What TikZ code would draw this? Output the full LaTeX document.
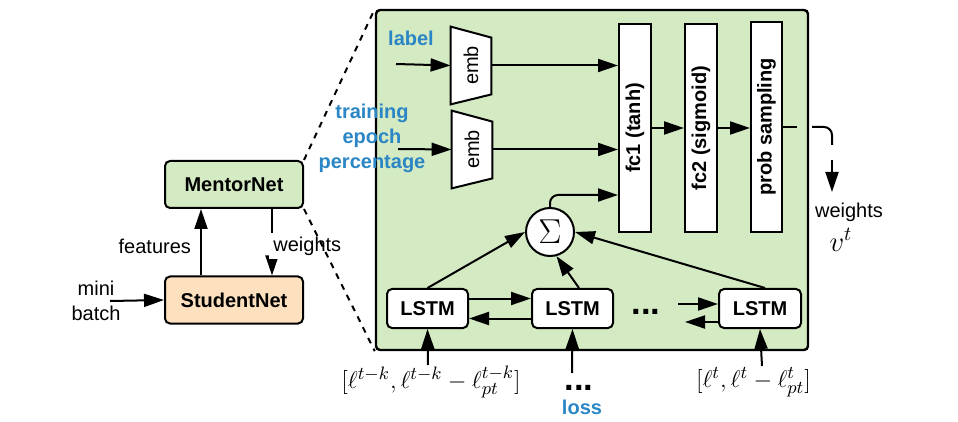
\documentclass[tikz,border=0pt]{standalone}
\usepackage{fontspec}
\setmainfont{Liberation Sans}
\usepackage{graphicx}
\usetikzlibrary{arrows.meta,calc}

\definecolor{netgreen}{HTML}{D4EAC3}
\definecolor{netorange}{HTML}{FDE0BD}
\definecolor{inblue}{HTML}{2A86C4}

\tikzset{
  arr/.style={-{Triangle[length=10pt,width=6.5pt]}, line width=1pt},
  net/.style={draw, line width=1pt, rounded corners=2.5pt, minimum width=69pt, minimum height=23.5pt, font=\bfseries},
  layer/.style={draw, line width=1pt, fill=white, minimum width=16pt, minimum height=104pt, font=\bfseries, inner sep=0pt},
  lstmbox/.style={draw, line width=1pt, fill=white, rounded corners=2.5pt, minimum width=40.5pt, minimum height=19.5pt, font=\bfseries},
  inlabel/.style={font=\bfseries, text=inblue},
  embbox/.style={minimum width=20pt, minimum height=38.5pt, inner sep=0pt},
  losslabel/.style={font=\fontsize{13}{15}\selectfont, inner sep=1pt},
}

\begin{document}
\begin{tikzpicture}[x=0.5pt,y=-0.5pt]
    \useasboundingbox (0,0) rectangle (958,422);
    % student and mentor
    \node[net, fill=netgreen] (mentor) at (234,184.5) {MentorNet};
    \node[net, fill=netorange] (student) at (234,300) {StudentNet};
    \draw[arr] ([xshift=-16.5pt]student.north) -- ([xshift=-16.5pt]mentor.south);
    \node[anchor=east] (features) at (198,246) {features};
    \draw[arr] ([xshift=19pt]mentor.south) -- ([xshift=19pt]student.north);
    \node[anchor=west, fill=white, inner sep=2pt] (weightsin) at (269,246) {weights};
    \node[align=center, font=\fontsize{10}{12.5}\selectfont] (minibatch) at (96,301) {mini\\batch};
    \coordinate (mbin) at (110,301);
    \draw[arr] (mbin) -- (student.west);
    % zoomed mentornet
    \node[draw, line width=1.2pt, fill=netgreen, rounded corners=2pt, minimum width=216pt, minimum height=170pt, inner sep=0pt] (detail) at (592,180) {};
    \draw[dashed, line width=1pt] (mentor.north east) -- (detail.north west);
    \draw[dashed, line width=1pt] (mentor.south east) -- (detail.south west);
    % embeddings
    \path node[embbox] (emb1) at (471,65.5) {};
    \draw[line width=1pt, fill=white] (emb1.north west) -- ([yshift=-5.5pt]emb1.north east) -- ([yshift=5pt]emb1.south east) -- (emb1.south west) -- cycle;
    \node (emb1t) at (emb1) {\rotatebox{90}{emb}};
    \path node[embbox] (emb2) at (472,149.5) {};
    \draw[line width=1pt, fill=white] (emb2.north west) -- ([yshift=-5.5pt]emb2.north east) -- ([yshift=5pt]emb2.south east) -- (emb2.south west) -- cycle;
    \node (emb2t) at (emb2) {\rotatebox{90}{emb}};
    \node[inlabel] (labeltxt) at (411,38) {label};
    \coordinate (labelin) at (396,64);
    \draw[arr] (labelin) -- (emb1.west);
    \node[inlabel, align=center, font=\bfseries\fontsize{10}{12.5}\selectfont] (epochtxt) at (372,138) {training\\epoch\\percentage};
    \coordinate (epochin) at (398,149);
    \draw[arr] (epochin) -- (emb2.west);
    % layers
    \node[layer] (fc1) at (635,128) {\rotatebox{90}{fc1 (tanh)}};
    \node[layer] (fc2) at (701,128) {\rotatebox{90}{fc2 (sigmoid)}};
    \node[layer, minimum width=15.5pt, minimum height=105pt] (prob) at (766.5,127) {\rotatebox{90}{prob sampling}};
    \draw[arr] (emb1.east) -- (emb1.east -| fc1.west);
    \draw[arr] (emb2.east) -- (emb2.east -| fc1.west);
    \draw[arr] (fc1.east |- fc2.east) -- (fc2.west);
    \draw[arr] (fc2.east) -- (fc2.east -| prob.west);
    % sum of lstm states
    \node[draw, circle, line width=1pt, fill=white, minimum size=24pt, inner sep=0pt, font=\LARGE] (sum) at (550,232) {$\Sigma$};
    \coordinate (fcin) at (617,195);
    \draw[arr, rounded corners=4pt] (sum.north) |- (fcin -| fc1.west);
    % lstm chain
    \node[lstmbox] (lstm1) at (427.5,308.5) {LSTM};
    \node[lstmbox] (lstm2) at (572.5,308.5) {LSTM};
    \node[lstmbox, minimum width=41pt] (lstm3) at (760,308.5) {LSTM};
    \draw[arr] ([yshift=5pt]lstm1.east) -- ([yshift=5pt]lstm2.west);
    \draw[arr] ([yshift=-5pt]lstm2.west) -- ([yshift=-5pt]lstm1.east);
    \node[font=\LARGE\bfseries, inner sep=0pt] (dots1) at (646,312) {...};
    \coordinate (dotsin) at (678,304);
    \coordinate (dotsout) at (685,322);
    \draw[arr] (dotsin) -- ([yshift=2.25pt]lstm3.west);
    \draw[arr] ([yshift=-6.75pt]lstm3.west) -- (dotsout);
    \draw[arr] (lstm1.north) -- (sum.west);
    \draw[arr] ([xshift=3.25pt]lstm2.north) -- (sum.-75);
    \draw[arr] ([xshift=2.5pt]lstm3.north) -- (sum.east);
    % losses
    \coordinate (in1) at (428,365);
    \coordinate (in2) at (572,373);
    \coordinate (in3) at (762,366);
    \draw[arr] (in1) -- (lstm1.south);
    \draw[arr] (in2) -- (lstm2.south);
    \draw[arr] (in3) -- (lstm3.south);
    \node[losslabel] (loss1) at (431,382) {$[\ell^{t-k},\ell^{t-k}-\ell^{t-k}_{pt}]$};
    \node[losslabel] (loss3) at (753.5,382) {$[\ell^{t},\ell^{t}-\ell^{t}_{pt}]$};
    \node[font=\LARGE\bfseries, inner sep=0pt] (dots2) at (579,388) {...};
    \node[inlabel] (losstxt) at (582,407) {loss};
    % output weights
    \coordinate (outa) at (797,127);
    \coordinate (outb) at (812,127);
    \coordinate (outc) at (832,145);
    \coordinate (outd) at (832,160);
    \coordinate (oute) at (832,192);
    \draw[line width=1pt] (prob.east) -- (outa);
    \draw[line width=1pt, rounded corners=4pt] (outb) -| (outc);
    \draw[arr] (outd) -- (oute);
    \node (weightsout) at (849,212) {weights};
    \node[font=\Large] (vt) at (841,240) {$v^t$};
\end{tikzpicture}
\end{document}
